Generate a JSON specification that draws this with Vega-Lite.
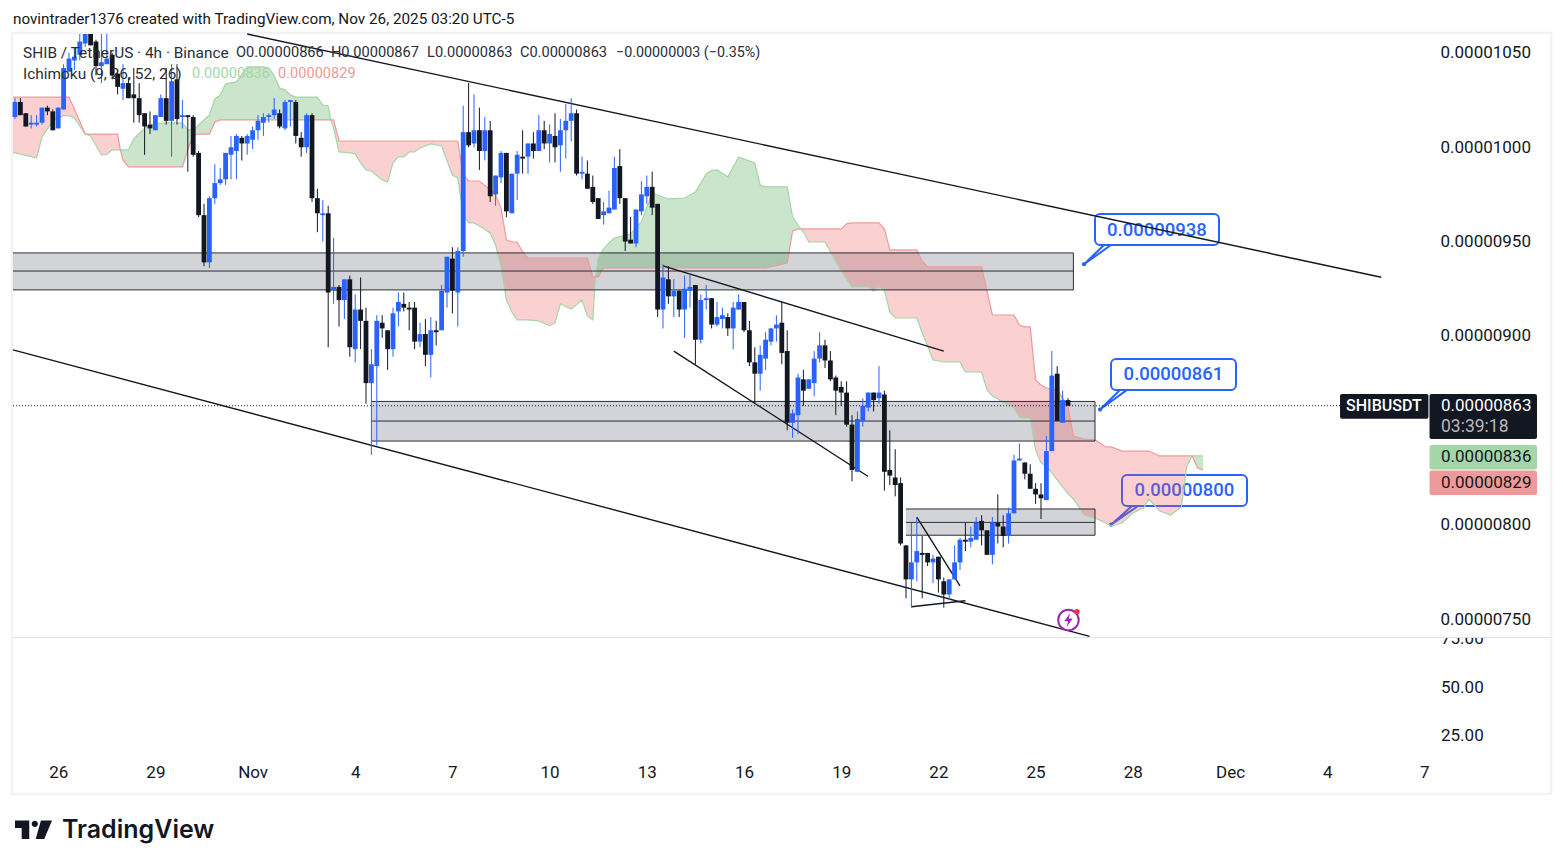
{"$schema":"https://vega.github.io/schema/vega-lite/v6.json","width":1563,"height":868,"autosize":{"type":"fit","contains":"padding"},"padding":0,"background":"#ffffff","config":{"view":{"stroke":null},"text":{"font":"Roboto"},"axis":{"labelFont":"Roboto"}},
"datasets":{
"candles":[
{"t":"2025-10-24T20:00Z","o":1016e-8,"h":1026e-8,"l":1015e-8,"c":1024e-8},
{"t":"2025-10-25T00:00Z","o":1024e-8,"h":1026e-8,"l":1017e-8,"c":1017e-8},
{"t":"2025-10-25T04:00Z","o":1018e-8,"h":1018e-8,"l":1011e-8,"c":1011e-8},
{"t":"2025-10-25T08:00Z","o":1012e-8,"h":1017e-8,"l":1010e-8,"c":1013e-8},
{"t":"2025-10-25T12:00Z","o":1012e-8,"h":1017e-8,"l":1011e-8,"c":1013e-8},
{"t":"2025-10-25T16:00Z","o":1013e-8,"h":1021e-8,"l":1012e-8,"c":1021e-8},
{"t":"2025-10-25T20:00Z","o":1021e-8,"h":1022e-8,"l":1017e-8,"c":1019e-8},
{"t":"2025-10-26T00:00Z","o":1019e-8,"h":1020e-8,"l":1009e-8,"c":1009e-8},
{"t":"2025-10-26T04:00Z","o":1010e-8,"h":1021e-8,"l":1010e-8,"c":1021e-8},
{"t":"2025-10-26T08:00Z","o":1020e-8,"h":1044e-8,"l":1020e-8,"c":1042e-8},
{"t":"2025-10-26T12:00Z","o":1040e-8,"h":1050e-8,"l":1040e-8,"c":1047e-8},
{"t":"2025-10-26T16:00Z","o":1046e-8,"h":1053e-8,"l":1041e-8,"c":1048e-8},
{"t":"2025-10-26T20:00Z","o":1049e-8,"h":1060e-8,"l":1046e-8,"c":1056e-8},
{"t":"2025-10-27T00:00Z","o":1055e-8,"h":1060e-8,"l":1053e-8,"c":1060e-8},
{"t":"2025-10-27T04:00Z","o":1060e-8,"h":1060e-8,"l":1054e-8,"c":1054e-8},
{"t":"2025-10-27T08:00Z","o":1056e-8,"h":1057e-8,"l":1038e-8,"c":1043e-8},
{"t":"2025-10-27T12:00Z","o":1043e-8,"h":1060e-8,"l":1034e-8,"c":1045e-8},
{"t":"2025-10-27T16:00Z","o":1044e-8,"h":1060e-8,"l":1044e-8,"c":1047e-8},
{"t":"2025-10-27T20:00Z","o":1049e-8,"h":1050e-8,"l":1036e-8,"c":1038e-8},
{"t":"2025-10-28T00:00Z","o":1039e-8,"h":1041e-8,"l":1028e-8,"c":1032e-8},
{"t":"2025-10-28T04:00Z","o":1031e-8,"h":1044e-8,"l":1025e-8,"c":1034e-8},
{"t":"2025-10-28T08:00Z","o":1034e-8,"h":1037e-8,"l":1026e-8,"c":1026e-8},
{"t":"2025-10-28T12:00Z","o":1028e-8,"h":1042e-8,"l":1013e-8,"c":1026e-8},
{"t":"2025-10-28T16:00Z","o":1026e-8,"h":1034e-8,"l":1013e-8,"c":1017e-8},
{"t":"2025-10-28T20:00Z","o":1018e-8,"h":1018e-8,"l":996e-8,"c":1011e-8},
{"t":"2025-10-29T00:00Z","o":1012e-8,"h":1019e-8,"l":1007e-8,"c":1010e-8},
{"t":"2025-10-29T04:00Z","o":1009e-8,"h":1017e-8,"l":1009e-8,"c":1017e-8},
{"t":"2025-10-29T08:00Z","o":1016e-8,"h":1028e-8,"l":1016e-8,"c":1026e-8},
{"t":"2025-10-29T12:00Z","o":1026e-8,"h":1042e-8,"l":1012e-8,"c":1014e-8},
{"t":"2025-10-29T16:00Z","o":1014e-8,"h":1044e-8,"l":995e-8,"c":1035e-8},
{"t":"2025-10-29T20:00Z","o":1036e-8,"h":1044e-8,"l":1012e-8,"c":1015e-8},
{"t":"2025-10-30T00:00Z","o":1016e-8,"h":1025e-8,"l":1010e-8,"c":1017e-8},
{"t":"2025-10-30T04:00Z","o":1017e-8,"h":1017e-8,"l":987e-8,"c":1016e-8},
{"t":"2025-10-30T08:00Z","o":1016e-8,"h":1017e-8,"l":995e-8,"c":996e-8},
{"t":"2025-10-30T12:00Z","o":997e-8,"h":998e-8,"l":963e-8,"c":964e-8},
{"t":"2025-10-30T16:00Z","o":964e-8,"h":970e-8,"l":937e-8,"c":939e-8},
{"t":"2025-10-30T20:00Z","o":939e-8,"h":974e-8,"l":936e-8,"c":973e-8},
{"t":"2025-10-31T00:00Z","o":973e-8,"h":991e-8,"l":970e-8,"c":981e-8},
{"t":"2025-10-31T04:00Z","o":981e-8,"h":989e-8,"l":980e-8,"c":983e-8},
{"t":"2025-10-31T08:00Z","o":983e-8,"h":997e-8,"l":980e-8,"c":997e-8},
{"t":"2025-10-31T12:00Z","o":996e-8,"h":1006e-8,"l":983e-8,"c":1000e-8},
{"t":"2025-10-31T16:00Z","o":998e-8,"h":1007e-8,"l":983e-8,"c":1006e-8},
{"t":"2025-10-31T20:00Z","o":1005e-8,"h":1006e-8,"l":993e-8,"c":1002e-8},
{"t":"2025-11-01T00:00Z","o":1002e-8,"h":1007e-8,"l":996e-8,"c":1006e-8},
{"t":"2025-11-01T04:00Z","o":1004e-8,"h":1011e-8,"l":999e-8,"c":1009e-8},
{"t":"2025-11-01T08:00Z","o":1009e-8,"h":1017e-8,"l":1004e-8,"c":1014e-8},
{"t":"2025-11-01T12:00Z","o":1013e-8,"h":1018e-8,"l":1006e-8,"c":1016e-8},
{"t":"2025-11-01T16:00Z","o":1016e-8,"h":1018e-8,"l":1013e-8,"c":1017e-8},
{"t":"2025-11-01T20:00Z","o":1017e-8,"h":1026e-8,"l":1015e-8,"c":1020e-8},
{"t":"2025-11-02T00:00Z","o":1018e-8,"h":1020e-8,"l":1010e-8,"c":1011e-8},
{"t":"2025-11-02T04:00Z","o":1010e-8,"h":1025e-8,"l":1009e-8,"c":1024e-8},
{"t":"2025-11-02T08:00Z","o":1024e-8,"h":1025e-8,"l":1011e-8,"c":1025e-8},
{"t":"2025-11-02T12:00Z","o":1024e-8,"h":1025e-8,"l":1002e-8,"c":1006e-8},
{"t":"2025-11-02T16:00Z","o":1005e-8,"h":1008e-8,"l":995e-8,"c":1000e-8},
{"t":"2025-11-02T20:00Z","o":1000e-8,"h":1018e-8,"l":997e-8,"c":1017e-8},
{"t":"2025-11-03T00:00Z","o":1017e-8,"h":1018e-8,"l":971e-8,"c":973e-8},
{"t":"2025-11-03T04:00Z","o":973e-8,"h":978e-8,"l":955e-8,"c":965e-8},
{"t":"2025-11-03T08:00Z","o":964e-8,"h":972e-8,"l":950e-8,"c":965e-8},
{"t":"2025-11-03T12:00Z","o":965e-8,"h":969e-8,"l":894e-8,"c":923e-8},
{"t":"2025-11-03T16:00Z","o":924e-8,"h":952e-8,"l":917e-8,"c":926e-8},
{"t":"2025-11-03T20:00Z","o":926e-8,"h":927e-8,"l":905e-8,"c":919e-8},
{"t":"2025-11-04T00:00Z","o":919e-8,"h":930e-8,"l":909e-8,"c":930e-8},
{"t":"2025-11-04T04:00Z","o":930e-8,"h":932e-8,"l":889e-8,"c":894e-8},
{"t":"2025-11-04T08:00Z","o":893e-8,"h":922e-8,"l":886e-8,"c":914e-8},
{"t":"2025-11-04T12:00Z","o":914e-8,"h":931e-8,"l":893e-8,"c":908e-8},
{"t":"2025-11-04T16:00Z","o":908e-8,"h":915e-8,"l":864e-8,"c":875e-8},
{"t":"2025-11-04T20:00Z","o":875e-8,"h":893e-8,"l":837e-8,"c":885e-8},
{"t":"2025-11-05T00:00Z","o":884e-8,"h":911e-8,"l":842e-8,"c":908e-8},
{"t":"2025-11-05T04:00Z","o":907e-8,"h":911e-8,"l":899e-8,"c":904e-8},
{"t":"2025-11-05T08:00Z","o":903e-8,"h":903e-8,"l":882e-8,"c":893e-8},
{"t":"2025-11-05T12:00Z","o":893e-8,"h":915e-8,"l":889e-8,"c":912e-8},
{"t":"2025-11-05T16:00Z","o":913e-8,"h":923e-8,"l":905e-8,"c":918e-8},
{"t":"2025-11-05T20:00Z","o":917e-8,"h":923e-8,"l":913e-8,"c":915e-8},
{"t":"2025-11-06T00:00Z","o":915e-8,"h":918e-8,"l":903e-8,"c":914e-8},
{"t":"2025-11-06T04:00Z","o":915e-8,"h":918e-8,"l":893e-8,"c":897e-8},
{"t":"2025-11-06T08:00Z","o":897e-8,"h":907e-8,"l":894e-8,"c":901e-8},
{"t":"2025-11-06T12:00Z","o":901e-8,"h":909e-8,"l":884e-8,"c":890e-8},
{"t":"2025-11-06T16:00Z","o":890e-8,"h":910e-8,"l":878e-8,"c":903e-8},
{"t":"2025-11-06T20:00Z","o":903e-8,"h":908e-8,"l":895e-8,"c":902e-8},
{"t":"2025-11-07T00:00Z","o":903e-8,"h":927e-8,"l":903e-8,"c":924e-8},
{"t":"2025-11-07T04:00Z","o":923e-8,"h":942e-8,"l":915e-8,"c":942e-8},
{"t":"2025-11-07T08:00Z","o":941e-8,"h":947e-8,"l":912e-8,"c":924e-8},
{"t":"2025-11-07T12:00Z","o":923e-8,"h":947e-8,"l":905e-8,"c":945e-8},
{"t":"2025-11-07T16:00Z","o":945e-8,"h":1022e-8,"l":942e-8,"c":1008e-8},
{"t":"2025-11-07T20:00Z","o":1008e-8,"h":1034e-8,"l":1000e-8,"c":1001e-8},
{"t":"2025-11-08T00:00Z","o":1002e-8,"h":1028e-8,"l":1000e-8,"c":1009e-8},
{"t":"2025-11-08T04:00Z","o":1009e-8,"h":1021e-8,"l":988e-8,"c":998e-8},
{"t":"2025-11-08T08:00Z","o":998e-8,"h":1016e-8,"l":993e-8,"c":1009e-8},
{"t":"2025-11-08T12:00Z","o":1009e-8,"h":1014e-8,"l":971e-8,"c":974e-8},
{"t":"2025-11-08T16:00Z","o":975e-8,"h":985e-8,"l":969e-8,"c":985e-8},
{"t":"2025-11-08T20:00Z","o":984e-8,"h":998e-8,"l":981e-8,"c":997e-8},
{"t":"2025-11-09T00:00Z","o":997e-8,"h":997e-8,"l":963e-8,"c":966e-8},
{"t":"2025-11-09T04:00Z","o":965e-8,"h":986e-8,"l":965e-8,"c":986e-8},
{"t":"2025-11-09T08:00Z","o":986e-8,"h":998e-8,"l":972e-8,"c":996e-8},
{"t":"2025-11-09T12:00Z","o":995e-8,"h":1009e-8,"l":986e-8,"c":994e-8},
{"t":"2025-11-09T16:00Z","o":995e-8,"h":1002e-8,"l":986e-8,"c":1002e-8},
{"t":"2025-11-09T20:00Z","o":1002e-8,"h":1008e-8,"l":994e-8,"c":998e-8},
{"t":"2025-11-10T00:00Z","o":998e-8,"h":1017e-8,"l":998e-8,"c":1009e-8},
{"t":"2025-11-10T04:00Z","o":1009e-8,"h":1014e-8,"l":999e-8,"c":1002e-8},
{"t":"2025-11-10T08:00Z","o":1002e-8,"h":1012e-8,"l":992e-8,"c":1007e-8},
{"t":"2025-11-10T12:00Z","o":1006e-8,"h":1018e-8,"l":992e-8,"c":1000e-8},
{"t":"2025-11-10T16:00Z","o":1001e-8,"h":1015e-8,"l":987e-8,"c":1009e-8},
{"t":"2025-11-10T20:00Z","o":1009e-8,"h":1023e-8,"l":994e-8,"c":1014e-8},
{"t":"2025-11-11T00:00Z","o":1014e-8,"h":1026e-8,"l":1003e-8,"c":1018e-8},
{"t":"2025-11-11T04:00Z","o":1018e-8,"h":1020e-8,"l":985e-8,"c":986e-8},
{"t":"2025-11-11T08:00Z","o":986e-8,"h":995e-8,"l":983e-8,"c":987e-8},
{"t":"2025-11-11T12:00Z","o":986e-8,"h":993e-8,"l":978e-8,"c":978e-8},
{"t":"2025-11-11T16:00Z","o":979e-8,"h":985e-8,"l":970e-8,"c":971e-8},
{"t":"2025-11-11T20:00Z","o":973e-8,"h":973e-8,"l":962e-8,"c":962e-8},
{"t":"2025-11-12T00:00Z","o":964e-8,"h":971e-8,"l":959e-8,"c":966e-8},
{"t":"2025-11-12T04:00Z","o":965e-8,"h":977e-8,"l":965e-8,"c":968e-8},
{"t":"2025-11-12T08:00Z","o":967e-8,"h":995e-8,"l":967e-8,"c":989e-8},
{"t":"2025-11-12T12:00Z","o":990e-8,"h":999e-8,"l":970e-8,"c":973e-8},
{"t":"2025-11-12T16:00Z","o":973e-8,"h":973e-8,"l":945e-8,"c":950e-8},
{"t":"2025-11-12T20:00Z","o":951e-8,"h":963e-8,"l":949e-8,"c":949e-8},
{"t":"2025-11-13T00:00Z","o":949e-8,"h":967e-8,"l":947e-8,"c":967e-8},
{"t":"2025-11-13T04:00Z","o":966e-8,"h":982e-8,"l":964e-8,"c":975e-8},
{"t":"2025-11-13T08:00Z","o":974e-8,"h":985e-8,"l":970e-8,"c":979e-8},
{"t":"2025-11-13T12:00Z","o":979e-8,"h":987e-8,"l":964e-8,"c":968e-8},
{"t":"2025-11-13T16:00Z","o":970e-8,"h":970e-8,"l":910e-8,"c":914e-8},
{"t":"2025-11-13T20:00Z","o":914e-8,"h":938e-8,"l":904e-8,"c":931e-8},
{"t":"2025-11-14T00:00Z","o":930e-8,"h":937e-8,"l":917e-8,"c":921e-8},
{"t":"2025-11-14T04:00Z","o":921e-8,"h":930e-8,"l":910e-8,"c":924e-8},
{"t":"2025-11-14T08:00Z","o":924e-8,"h":924e-8,"l":910e-8,"c":914e-8},
{"t":"2025-11-14T12:00Z","o":914e-8,"h":932e-8,"l":899e-8,"c":925e-8},
{"t":"2025-11-14T16:00Z","o":924e-8,"h":933e-8,"l":915e-8,"c":926e-8},
{"t":"2025-11-14T20:00Z","o":927e-8,"h":927e-8,"l":885e-8,"c":898e-8},
{"t":"2025-11-15T00:00Z","o":898e-8,"h":922e-8,"l":896e-8,"c":919e-8},
{"t":"2025-11-15T04:00Z","o":919e-8,"h":927e-8,"l":914e-8,"c":920e-8},
{"t":"2025-11-15T08:00Z","o":920e-8,"h":920e-8,"l":904e-8,"c":906e-8},
{"t":"2025-11-15T12:00Z","o":906e-8,"h":918e-8,"l":905e-8,"c":910e-8},
{"t":"2025-11-15T16:00Z","o":909e-8,"h":915e-8,"l":904e-8,"c":911e-8},
{"t":"2025-11-15T20:00Z","o":910e-8,"h":912e-8,"l":900e-8,"c":904e-8},
{"t":"2025-11-16T00:00Z","o":904e-8,"h":918e-8,"l":893e-8,"c":915e-8},
{"t":"2025-11-16T04:00Z","o":914e-8,"h":922e-8,"l":914e-8,"c":918e-8},
{"t":"2025-11-16T08:00Z","o":918e-8,"h":918e-8,"l":902e-8,"c":903e-8},
{"t":"2025-11-16T12:00Z","o":903e-8,"h":908e-8,"l":884e-8,"c":886e-8},
{"t":"2025-11-16T16:00Z","o":886e-8,"h":894e-8,"l":864e-8,"c":880e-8},
{"t":"2025-11-16T20:00Z","o":880e-8,"h":895e-8,"l":871e-8,"c":890e-8},
{"t":"2025-11-17T00:00Z","o":888e-8,"h":902e-8,"l":882e-8,"c":898e-8},
{"t":"2025-11-17T04:00Z","o":897e-8,"h":904e-8,"l":895e-8,"c":904e-8},
{"t":"2025-11-17T08:00Z","o":904e-8,"h":911e-8,"l":897e-8,"c":906e-8},
{"t":"2025-11-17T12:00Z","o":907e-8,"h":918e-8,"l":885e-8,"c":891e-8},
{"t":"2025-11-17T16:00Z","o":892e-8,"h":903e-8,"l":850e-8,"c":854e-8},
{"t":"2025-11-17T20:00Z","o":854e-8,"h":861e-8,"l":846e-8,"c":859e-8},
{"t":"2025-11-18T00:00Z","o":858e-8,"h":880e-8,"l":848e-8,"c":878e-8},
{"t":"2025-11-18T04:00Z","o":877e-8,"h":882e-8,"l":863e-8,"c":871e-8},
{"t":"2025-11-18T08:00Z","o":872e-8,"h":877e-8,"l":872e-8,"c":877e-8},
{"t":"2025-11-18T12:00Z","o":875e-8,"h":892e-8,"l":868e-8,"c":888e-8},
{"t":"2025-11-18T16:00Z","o":888e-8,"h":902e-8,"l":886e-8,"c":895e-8},
{"t":"2025-11-18T20:00Z","o":895e-8,"h":898e-8,"l":883e-8,"c":887e-8},
{"t":"2025-11-19T00:00Z","o":887e-8,"h":892e-8,"l":876e-8,"c":877e-8},
{"t":"2025-11-19T04:00Z","o":878e-8,"h":879e-8,"l":858e-8,"c":871e-8},
{"t":"2025-11-19T08:00Z","o":873e-8,"h":876e-8,"l":863e-8,"c":870e-8},
{"t":"2025-11-19T12:00Z","o":870e-8,"h":876e-8,"l":852e-8,"c":853e-8},
{"t":"2025-11-19T16:00Z","o":853e-8,"h":858e-8,"l":823e-8,"c":829e-8},
{"t":"2025-11-19T20:00Z","o":828e-8,"h":860e-8,"l":828e-8,"c":856e-8},
{"t":"2025-11-20T00:00Z","o":855e-8,"h":867e-8,"l":852e-8,"c":863e-8},
{"t":"2025-11-20T04:00Z","o":862e-8,"h":870e-8,"l":860e-8,"c":870e-8},
{"t":"2025-11-20T08:00Z","o":870e-8,"h":870e-8,"l":860e-8,"c":866e-8},
{"t":"2025-11-20T12:00Z","o":867e-8,"h":884e-8,"l":864e-8,"c":870e-8},
{"t":"2025-11-20T16:00Z","o":869e-8,"h":871e-8,"l":818e-8,"c":828e-8},
{"t":"2025-11-20T20:00Z","o":829e-8,"h":850e-8,"l":821e-8,"c":826e-8},
{"t":"2025-11-21T00:00Z","o":825e-8,"h":840e-8,"l":815e-8,"c":821e-8},
{"t":"2025-11-21T04:00Z","o":822e-8,"h":825e-8,"l":789e-8,"c":790e-8},
{"t":"2025-11-21T08:00Z","o":789e-8,"h":789e-8,"l":761e-8,"c":771e-8},
{"t":"2025-11-21T12:00Z","o":771e-8,"h":801e-8,"l":756e-8,"c":780e-8},
{"t":"2025-11-21T16:00Z","o":780e-8,"h":804e-8,"l":770e-8,"c":786e-8},
{"t":"2025-11-21T20:00Z","o":785e-8,"h":794e-8,"l":761e-8,"c":784e-8},
{"t":"2025-11-22T00:00Z","o":785e-8,"h":785e-8,"l":778e-8,"c":780e-8},
{"t":"2025-11-22T04:00Z","o":780e-8,"h":784e-8,"l":769e-8,"c":782e-8},
{"t":"2025-11-22T08:00Z","o":783e-8,"h":783e-8,"l":764e-8,"c":771e-8},
{"t":"2025-11-22T12:00Z","o":770e-8,"h":772e-8,"l":756e-8,"c":763e-8},
{"t":"2025-11-22T16:00Z","o":763e-8,"h":771e-8,"l":760e-8,"c":771e-8},
{"t":"2025-11-22T20:00Z","o":771e-8,"h":789e-8,"l":771e-8,"c":780e-8},
{"t":"2025-11-23T00:00Z","o":780e-8,"h":793e-8,"l":776e-8,"c":792e-8},
{"t":"2025-11-23T04:00Z","o":792e-8,"h":801e-8,"l":786e-8,"c":791e-8},
{"t":"2025-11-23T08:00Z","o":791e-8,"h":799e-8,"l":788e-8,"c":793e-8},
{"t":"2025-11-23T12:00Z","o":792e-8,"h":804e-8,"l":792e-8,"c":801e-8},
{"t":"2025-11-23T16:00Z","o":802e-8,"h":805e-8,"l":789e-8,"c":797e-8},
{"t":"2025-11-23T20:00Z","o":797e-8,"h":797e-8,"l":784e-8,"c":784e-8},
{"t":"2025-11-24T00:00Z","o":784e-8,"h":804e-8,"l":779e-8,"c":801e-8},
{"t":"2025-11-24T04:00Z","o":801e-8,"h":816e-8,"l":790e-8,"c":799e-8},
{"t":"2025-11-24T08:00Z","o":799e-8,"h":805e-8,"l":788e-8,"c":794e-8},
{"t":"2025-11-24T12:00Z","o":794e-8,"h":809e-8,"l":790e-8,"c":806e-8},
{"t":"2025-11-24T16:00Z","o":806e-8,"h":837e-8,"l":806e-8,"c":834e-8},
{"t":"2025-11-24T20:00Z","o":834e-8,"h":843e-8,"l":834e-8,"c":835e-8},
{"t":"2025-11-25T00:00Z","o":833e-8,"h":833e-8,"l":824e-8,"c":827e-8},
{"t":"2025-11-25T04:00Z","o":827e-8,"h":832e-8,"l":819e-8,"c":819e-8},
{"t":"2025-11-25T08:00Z","o":819e-8,"h":822e-8,"l":811e-8,"c":816e-8},
{"t":"2025-11-25T12:00Z","o":816e-8,"h":822e-8,"l":803e-8,"c":814e-8},
{"t":"2025-11-25T16:00Z","o":813e-8,"h":847e-8,"l":813e-8,"c":839e-8},
{"t":"2025-11-25T20:00Z","o":839e-8,"h":892e-8,"l":839e-8,"c":879e-8},
{"t":"2025-11-26T00:00Z","o":880e-8,"h":884e-8,"l":855e-8,"c":855e-8},
{"t":"2025-11-26T04:00Z","o":854e-8,"h":871e-8,"l":854e-8,"c":866e-8},
{"t":"2025-11-26T08:00Z","o":866e-8,"h":867e-8,"l":863e-8,"c":863e-8}
],
"cloud":[
{"t":"2025-10-24T18:30Z","a":997e-8,"b":1026.6e-8,"s":1,"k":"bear"},
{"t":"2025-10-24T20:00Z","a":997e-8,"b":1026.6e-8,"s":1,"k":"bear"},
{"t":"2025-10-25T04:00Z","a":995.7e-8,"b":1026.6e-8,"s":1,"k":"bear"},
{"t":"2025-10-25T12:00Z","a":994.3e-8,"b":1026.6e-8,"s":1,"k":"bear"},
{"t":"2025-10-25T16:00Z","a":1005.5e-8,"b":1026.6e-8,"s":1,"k":"bear"},
{"t":"2025-10-26T00:00Z","a":1013.9e-8,"b":1026.6e-8,"s":1,"k":"bear"},
{"t":"2025-10-26T08:00Z","a":1016.9e-8,"b":1026.6e-8,"s":1,"k":"bear"},
{"t":"2025-10-26T12:00Z","a":1016.6e-8,"b":1026.6e-8,"s":1,"k":"bear"},
{"t":"2025-10-26T16:00Z","a":1015.5e-8,"b":1020.3e-8,"s":1,"k":"bear"},
{"t":"2025-10-27T00:00Z","a":1007e-8,"b":1007e-8,"s":1,"k":"bear"},
{"t":"2025-10-27T04:00Z","a":1006e-8,"b":1007e-8,"s":1,"k":"bear"},
{"t":"2025-10-27T12:00Z","a":995.9e-8,"b":1007e-8,"s":1,"k":"bear"},
{"t":"2025-10-27T16:00Z","a":996.2e-8,"b":1007e-8,"s":1,"k":"bear"},
{"t":"2025-10-27T20:00Z","a":998.6e-8,"b":1007e-8,"s":1,"k":"bear"},
{"t":"2025-10-28T00:00Z","a":998.6e-8,"b":1007e-8,"s":1,"k":"bear"},
{"t":"2025-10-28T02:00Z","a":998.6e-8,"b":998.6e-8,"s":1,"k":"bear"},
{"t":"2025-10-28T02:00Z","a":998.6e-8,"b":998.6e-8,"s":2,"k":"bull"},
{"t":"2025-10-28T04:00Z","a":998.6e-8,"b":993.3e-8,"s":2,"k":"bull"},
{"t":"2025-10-28T08:00Z","a":998.6e-8,"b":989.6e-8,"s":2,"k":"bull"},
{"t":"2025-10-28T12:00Z","a":1004.4e-8,"b":989.6e-8,"s":2,"k":"bull"},
{"t":"2025-10-28T20:00Z","a":1010.2e-8,"b":989.6e-8,"s":2,"k":"bull"},
{"t":"2025-10-29T04:00Z","a":1012.6e-8,"b":989.6e-8,"s":2,"k":"bull"},
{"t":"2025-10-29T12:00Z","a":1012.9e-8,"b":989.6e-8,"s":2,"k":"bull"},
{"t":"2025-10-30T00:00Z","a":1012.9e-8,"b":989.6e-8,"s":2,"k":"bull"},
{"t":"2025-10-30T04:00Z","a":1009.2e-8,"b":998.6e-8,"s":2,"k":"bull"},
{"t":"2025-10-30T08:00Z","a":1009.2e-8,"b":1006.5e-8,"s":2,"k":"bull"},
{"t":"2025-10-30T12:00Z","a":1011.8e-8,"b":1007e-8,"s":2,"k":"bull"},
{"t":"2025-10-30T20:00Z","a":1017.1e-8,"b":1007e-8,"s":2,"k":"bull"},
{"t":"2025-10-31T00:00Z","a":1025.6e-8,"b":1013.4e-8,"s":2,"k":"bull"},
{"t":"2025-10-31T04:00Z","a":1027.5e-8,"b":1014.5e-8,"s":2,"k":"bull"},
{"t":"2025-10-31T08:00Z","a":1033.6e-8,"b":1014.5e-8,"s":2,"k":"bull"},
{"t":"2025-10-31T16:00Z","a":1034.6e-8,"b":1014.5e-8,"s":2,"k":"bull"},
{"t":"2025-11-01T00:00Z","a":1042.6e-8,"b":1014.5e-8,"s":2,"k":"bull"},
{"t":"2025-11-01T12:00Z","a":1042.6e-8,"b":1014.5e-8,"s":2,"k":"bull"},
{"t":"2025-11-01T16:00Z","a":1042e-8,"b":1014.5e-8,"s":2,"k":"bull"},
{"t":"2025-11-01T20:00Z","a":1037.8e-8,"b":1014.5e-8,"s":2,"k":"bull"},
{"t":"2025-11-02T00:00Z","a":1031.4e-8,"b":1014.5e-8,"s":2,"k":"bull"},
{"t":"2025-11-02T04:00Z","a":1030.4e-8,"b":1014.5e-8,"s":2,"k":"bull"},
{"t":"2025-11-02T08:00Z","a":1027.7e-8,"b":1014.5e-8,"s":2,"k":"bull"},
{"t":"2025-11-02T12:00Z","a":1026.6e-8,"b":1014.5e-8,"s":2,"k":"bull"},
{"t":"2025-11-03T04:00Z","a":1026.6e-8,"b":1014.5e-8,"s":2,"k":"bull"},
{"t":"2025-11-03T08:00Z","a":1022.4e-8,"b":1014.5e-8,"s":2,"k":"bull"},
{"t":"2025-11-03T12:00Z","a":1021.9e-8,"b":1014.5e-8,"s":2,"k":"bull"},
{"t":"2025-11-03T14:00Z","a":1014.5e-8,"b":1014.5e-8,"s":2,"k":"bull"},
{"t":"2025-11-03T14:00Z","a":1014.5e-8,"b":1014.5e-8,"s":3,"k":"bear"},
{"t":"2025-11-03T16:00Z","a":1010.2e-8,"b":1014.5e-8,"s":3,"k":"bear"},
{"t":"2025-11-03T20:00Z","a":997.5e-8,"b":1003.3e-8,"s":3,"k":"bear"},
{"t":"2025-11-04T04:00Z","a":997e-8,"b":1003.3e-8,"s":3,"k":"bear"},
{"t":"2025-11-04T08:00Z","a":996.5e-8,"b":1003.3e-8,"s":3,"k":"bear"},
{"t":"2025-11-04T12:00Z","a":991.7e-8,"b":1003.3e-8,"s":3,"k":"bear"},
{"t":"2025-11-04T16:00Z","a":988e-8,"b":1003.3e-8,"s":3,"k":"bear"},
{"t":"2025-11-04T20:00Z","a":987.4e-8,"b":1003.3e-8,"s":3,"k":"bear"},
{"t":"2025-11-05T04:00Z","a":982.7e-8,"b":1003.3e-8,"s":3,"k":"bear"},
{"t":"2025-11-05T08:00Z","a":981.6e-8,"b":1003.3e-8,"s":3,"k":"bear"},
{"t":"2025-11-05T12:00Z","a":991.7e-8,"b":1003.3e-8,"s":3,"k":"bear"},
{"t":"2025-11-05T16:00Z","a":994.9e-8,"b":1003.3e-8,"s":3,"k":"bear"},
{"t":"2025-11-05T20:00Z","a":994.9e-8,"b":1003.3e-8,"s":3,"k":"bear"},
{"t":"2025-11-06T00:00Z","a":997.5e-8,"b":1003.3e-8,"s":3,"k":"bear"},
{"t":"2025-11-06T04:00Z","a":997.5e-8,"b":1003.3e-8,"s":3,"k":"bear"},
{"t":"2025-11-06T08:00Z","a":999.6e-8,"b":1003.3e-8,"s":3,"k":"bear"},
{"t":"2025-11-06T16:00Z","a":1001.8e-8,"b":1003.3e-8,"s":3,"k":"bear"},
{"t":"2025-11-07T00:00Z","a":1000.7e-8,"b":1003.3e-8,"s":3,"k":"bear"},
{"t":"2025-11-07T08:00Z","a":985.3e-8,"b":1003.3e-8,"s":3,"k":"bear"},
{"t":"2025-11-07T12:00Z","a":983.7e-8,"b":1003.3e-8,"s":3,"k":"bear"},
{"t":"2025-11-07T16:00Z","a":964.1e-8,"b":985.3e-8,"s":3,"k":"bear"},
{"t":"2025-11-07T20:00Z","a":959.9e-8,"b":982.1e-8,"s":3,"k":"bear"},
{"t":"2025-11-08T00:00Z","a":959.9e-8,"b":982.1e-8,"s":3,"k":"bear"},
{"t":"2025-11-08T04:00Z","a":958.3e-8,"b":982.1e-8,"s":3,"k":"bear"},
{"t":"2025-11-08T12:00Z","a":954.6e-8,"b":977.4e-8,"s":3,"k":"bear"},
{"t":"2025-11-08T16:00Z","a":948.2e-8,"b":974.7e-8,"s":3,"k":"bear"},
{"t":"2025-11-08T20:00Z","a":936.6e-8,"b":967.8e-8,"s":3,"k":"bear"},
{"t":"2025-11-09T00:00Z","a":919e-8,"b":950.9e-8,"s":3,"k":"bear"},
{"t":"2025-11-09T04:00Z","a":912.7e-8,"b":949.8e-8,"s":3,"k":"bear"},
{"t":"2025-11-09T08:00Z","a":908.5e-8,"b":949.8e-8,"s":3,"k":"bear"},
{"t":"2025-11-09T12:00Z","a":908.5e-8,"b":944.5e-8,"s":3,"k":"bear"},
{"t":"2025-11-09T16:00Z","a":908.5e-8,"b":941.3e-8,"s":3,"k":"bear"},
{"t":"2025-11-10T00:00Z","a":908e-8,"b":941.3e-8,"s":3,"k":"bear"},
{"t":"2025-11-10T08:00Z","a":905.3e-8,"b":941.3e-8,"s":3,"k":"bear"},
{"t":"2025-11-10T12:00Z","a":906.9e-8,"b":941.3e-8,"s":3,"k":"bear"},
{"t":"2025-11-10T16:00Z","a":917e-8,"b":941.3e-8,"s":3,"k":"bear"},
{"t":"2025-11-11T00:00Z","a":914.3e-8,"b":941.3e-8,"s":3,"k":"bear"},
{"t":"2025-11-11T08:00Z","a":919e-8,"b":941.3e-8,"s":3,"k":"bear"},
{"t":"2025-11-11T12:00Z","a":910.6e-8,"b":941.3e-8,"s":3,"k":"bear"},
{"t":"2025-11-11T16:00Z","a":908.5e-8,"b":931.3e-8,"s":3,"k":"bear"},
{"t":"2025-11-11T18:00Z","a":931.3e-8,"b":931.3e-8,"s":3,"k":"bear"},
{"t":"2025-11-11T18:00Z","a":931.3e-8,"b":931.3e-8,"s":4,"k":"bull"},
{"t":"2025-11-11T20:00Z","a":941.3e-8,"b":931.3e-8,"s":4,"k":"bull"},
{"t":"2025-11-12T00:00Z","a":946.1e-8,"b":936e-8,"s":4,"k":"bull"},
{"t":"2025-11-12T04:00Z","a":949.3e-8,"b":936e-8,"s":4,"k":"bull"},
{"t":"2025-11-12T08:00Z","a":951.9e-8,"b":936e-8,"s":4,"k":"bull"},
{"t":"2025-11-12T20:00Z","a":954e-8,"b":936e-8,"s":4,"k":"bull"},
{"t":"2025-11-13T04:00Z","a":960.4e-8,"b":936e-8,"s":4,"k":"bull"},
{"t":"2025-11-13T12:00Z","a":975.8e-8,"b":936e-8,"s":4,"k":"bull"},
{"t":"2025-11-14T00:00Z","a":972.6e-8,"b":936e-8,"s":4,"k":"bull"},
{"t":"2025-11-14T12:00Z","a":973.1e-8,"b":936e-8,"s":4,"k":"bull"},
{"t":"2025-11-14T20:00Z","a":976.3e-8,"b":936e-8,"s":4,"k":"bull"},
{"t":"2025-11-15T04:00Z","a":985.9e-8,"b":936e-8,"s":4,"k":"bull"},
{"t":"2025-11-15T08:00Z","a":987.7e-8,"b":936e-8,"s":4,"k":"bull"},
{"t":"2025-11-15T12:00Z","a":988e-8,"b":936e-8,"s":4,"k":"bull"},
{"t":"2025-11-15T20:00Z","a":984.3e-8,"b":936e-8,"s":4,"k":"bull"},
{"t":"2025-11-16T04:00Z","a":994.9e-8,"b":936e-8,"s":4,"k":"bull"},
{"t":"2025-11-16T16:00Z","a":991.7e-8,"b":936e-8,"s":4,"k":"bull"},
{"t":"2025-11-16T20:00Z","a":980e-8,"b":936e-8,"s":4,"k":"bull"},
{"t":"2025-11-17T00:00Z","a":979e-8,"b":936e-8,"s":4,"k":"bull"},
{"t":"2025-11-17T16:00Z","a":979e-8,"b":938.7e-8,"s":4,"k":"bull"},
{"t":"2025-11-17T20:00Z","a":963e-8,"b":955.6e-8,"s":4,"k":"bull"},
{"t":"2025-11-18T00:00Z","a":958.8e-8,"b":956.7e-8,"s":4,"k":"bull"},
{"t":"2025-11-18T02:00Z","a":956.7e-8,"b":956.7e-8,"s":4,"k":"bull"},
{"t":"2025-11-18T02:00Z","a":956.7e-8,"b":956.7e-8,"s":5,"k":"bear"},
{"t":"2025-11-18T04:00Z","a":955.1e-8,"b":956.7e-8,"s":5,"k":"bear"},
{"t":"2025-11-18T08:00Z","a":949.8e-8,"b":956.7e-8,"s":5,"k":"bear"},
{"t":"2025-11-18T20:00Z","a":949.8e-8,"b":956.7e-8,"s":5,"k":"bear"},
{"t":"2025-11-19T08:00Z","a":934.4e-8,"b":956.7e-8,"s":5,"k":"bear"},
{"t":"2025-11-19T12:00Z","a":930.2e-8,"b":959.4e-8,"s":5,"k":"bear"},
{"t":"2025-11-19T16:00Z","a":926e-8,"b":959.9e-8,"s":5,"k":"bear"},
{"t":"2025-11-20T04:00Z","a":926e-8,"b":959.9e-8,"s":5,"k":"bear"},
{"t":"2025-11-20T08:00Z","a":923.8e-8,"b":959.9e-8,"s":5,"k":"bear"},
{"t":"2025-11-20T12:00Z","a":926e-8,"b":959.9e-8,"s":5,"k":"bear"},
{"t":"2025-11-20T16:00Z","a":924.4e-8,"b":956.7e-8,"s":5,"k":"bear"},
{"t":"2025-11-20T20:00Z","a":912.7e-8,"b":945.6e-8,"s":5,"k":"bear"},
{"t":"2025-11-21T00:00Z","a":909.5e-8,"b":945.6e-8,"s":5,"k":"bear"},
{"t":"2025-11-21T16:00Z","a":909.5e-8,"b":945.6e-8,"s":5,"k":"bear"},
{"t":"2025-11-21T20:00Z","a":901.6e-8,"b":939.7e-8,"s":5,"k":"bear"},
{"t":"2025-11-22T00:00Z","a":894.7e-8,"b":936.6e-8,"s":5,"k":"bear"},
{"t":"2025-11-22T04:00Z","a":887.3e-8,"b":936.6e-8,"s":5,"k":"bear"},
{"t":"2025-11-22T12:00Z","a":886.2e-8,"b":936.6e-8,"s":5,"k":"bear"},
{"t":"2025-11-23T00:00Z","a":886.2e-8,"b":936.6e-8,"s":5,"k":"bear"},
{"t":"2025-11-23T04:00Z","a":880.9e-8,"b":936.6e-8,"s":5,"k":"bear"},
{"t":"2025-11-23T16:00Z","a":880.9e-8,"b":936.6e-8,"s":5,"k":"bear"},
{"t":"2025-11-23T20:00Z","a":871.4e-8,"b":923.8e-8,"s":5,"k":"bear"},
{"t":"2025-11-24T00:00Z","a":868.2e-8,"b":911.1e-8,"s":5,"k":"bear"},
{"t":"2025-11-24T16:00Z","a":861.8e-8,"b":911.1e-8,"s":5,"k":"bear"},
{"t":"2025-11-24T20:00Z","a":857e-8,"b":905.8e-8,"s":5,"k":"bear"},
{"t":"2025-11-25T00:00Z","a":856.5e-8,"b":904.8e-8,"s":5,"k":"bear"},
{"t":"2025-11-25T04:00Z","a":856.5e-8,"b":904.8e-8,"s":5,"k":"bear"},
{"t":"2025-11-25T08:00Z","a":839.6e-8,"b":876.7e-8,"s":5,"k":"bear"},
{"t":"2025-11-25T12:00Z","a":832.7e-8,"b":874e-8,"s":5,"k":"bear"},
{"t":"2025-11-25T16:00Z","a":831.1e-8,"b":872.4e-8,"s":5,"k":"bear"},
{"t":"2025-11-26T00:00Z","a":823.7e-8,"b":871.4e-8,"s":5,"k":"bear"},
{"t":"2025-11-26T04:00Z","a":820e-8,"b":867.1e-8,"s":5,"k":"bear"},
{"t":"2025-11-26T08:00Z","a":816.3e-8,"b":862.4e-8,"s":5,"k":"bear"},
{"t":"2025-11-26T12:00Z","a":813.6e-8,"b":847e-8,"s":5,"k":"bear"},
{"t":"2025-11-26T20:00Z","a":805.1e-8,"b":845.4e-8,"s":5,"k":"bear"},
{"t":"2025-11-27T04:00Z","a":803.5e-8,"b":844.9e-8,"s":5,"k":"bear"},
{"t":"2025-11-27T12:00Z","a":800.9e-8,"b":841.2e-8,"s":5,"k":"bear"},
{"t":"2025-11-27T16:00Z","a":799.3e-8,"b":841.2e-8,"s":5,"k":"bear"},
{"t":"2025-11-28T00:00Z","a":800.9e-8,"b":839e-8,"s":5,"k":"bear"},
{"t":"2025-11-28T08:00Z","a":806.2e-8,"b":839e-8,"s":5,"k":"bear"},
{"t":"2025-11-28T16:00Z","a":808.8e-8,"b":839e-8,"s":5,"k":"bear"},
{"t":"2025-11-28T20:00Z","a":813.6e-8,"b":839e-8,"s":5,"k":"bear"},
{"t":"2025-11-29T04:00Z","a":807.2e-8,"b":836.4e-8,"s":5,"k":"bear"},
{"t":"2025-11-29T12:00Z","a":805.1e-8,"b":836.4e-8,"s":5,"k":"bear"},
{"t":"2025-11-29T20:00Z","a":809.4e-8,"b":836.4e-8,"s":5,"k":"bear"},
{"t":"2025-11-30T00:00Z","a":831.1e-8,"b":836.4e-8,"s":5,"k":"bear"},
{"t":"2025-11-30T04:00Z","a":836.4e-8,"b":836.4e-8,"s":5,"k":"bear"},
{"t":"2025-11-30T04:00Z","a":836.4e-8,"b":836.4e-8,"s":6,"k":"bull"},
{"t":"2025-11-30T08:00Z","a":836.4e-8,"b":830e-8,"s":6,"k":"bull"},
{"t":"2025-11-30T12:00Z","a":836.4e-8,"b":829e-8,"s":6,"k":"bull"}
],
"zones":[
{"t":"2025-10-24T18:30Z","t2":"2025-11-26T12:00Z","p":944e-8,"m":934.4e-8,"p2":924.4e-8},
{"t":"2025-11-04T20:00Z","t2":"2025-11-27T04:00Z","p":865.3e-8,"m":854.9e-8,"p2":844.3e-8},
{"t":"2025-11-21T08:00Z","t2":"2025-11-27T04:00Z","p":808.3e-8,"m":801.2e-8,"p2":794.4e-8}
],
"trends":[
{"id":"upper","t":"2025-11-01T00:00Z","p":1060e-8},
{"id":"upper","t":"2025-12-06T00:00Z","p":931.1e-8},
{"id":"lower","t":"2025-10-24T18:30Z","p":892.6e-8},
{"id":"lower","t":"2025-11-27T00:00Z","p":740.8e-8},
{"id":"innerUpper","t":"2025-11-13T20:00Z","p":937.1e-8},
{"id":"innerUpper","t":"2025-11-22T12:00Z","p":892e-8},
{"id":"innerLower","t":"2025-11-14T04:00Z","p":892e-8},
{"id":"innerLower","t":"2025-11-20T04:00Z","p":825.5e-8},
{"id":"wedgeUpper","t":"2025-11-21T16:00Z","p":804e-8},
{"id":"wedgeUpper","t":"2025-11-23T00:00Z","p":767.5e-8},
{"id":"wedgeBase","t":"2025-11-21T12:00Z","p":756.5e-8},
{"id":"wedgeBase","t":"2025-11-23T04:00Z","p":759.7e-8}
],
"boxes":[
{"label":"0.00000938","t":"2025-11-27T04:00Z","t2":"2025-11-30T23:51Z","p":964.6e-8,"p2":948.2e-8,"tm":"2025-11-29T01:54Z","pm":956.4e-8},
{"label":"0.00000861","t":"2025-11-27T15:51Z","t2":"2025-12-01T12:27Z","p":887.8e-8,"p2":871.4e-8,"tm":"2025-11-29T14:09Z","pm":879.6e-8},
{"label":"0.00000800","t":"2025-11-28T00:00Z","t2":"2025-12-01T20:36Z","p":826.3e-8,"p2":809.9e-8,"tm":"2025-11-29T22:18Z","pm":818.1e-8}
],
"tails":[
{"id":"938","seq":1,"t":"2025-11-27T10:40Z","p":948.2e-8},
{"id":"938","seq":2,"t":"2025-11-26T19:51Z","p":938e-8},
{"id":"938","seq":3,"t":"2025-11-27T15:51Z","p":948.2e-8},
{"id":"861","seq":1,"t":"2025-11-27T22:31Z","p":871.4e-8},
{"id":"861","seq":2,"t":"2025-11-27T07:42Z","p":861e-8},
{"id":"861","seq":3,"t":"2025-11-28T03:42Z","p":871.4e-8},
{"id":"800","seq":1,"t":"2025-11-28T07:24Z","p":809.9e-8},
{"id":"800","seq":2,"t":"2025-11-27T15:51Z","p":800e-8},
{"id":"800","seq":3,"t":"2025-11-28T11:51Z","p":809.9e-8}
]
},
"encoding":{"x":{"field":"t","type":"temporal","title":null,"axis":null,"scale":{"type":"utc","padding":0,"domain":["2025-10-24T08:53:20Z","2025-12-11T14:40:00Z"]}}},
"layer":[
{"data":{"values":[{"t":"2025-12-07T20:18Z","rsi":75},{"t":"2025-12-07T20:18Z","rsi":50},{"t":"2025-12-07T20:18Z","rsi":25}]},
"mark":{"type":"text","align":"left","baseline":"middle","fontSize":17,"color":"#131722","font":"Roboto"},
"encoding":{"y":{"field":"rsi","type":"quantitative","axis":null,"scale":{"domain":[-43.04,404.4],"zero":false,"nice":false}},"text":{"field":"rsi","type":"quantitative","format":".2f"}}},
{"encoding":{"y":{"field":"p","type":"quantitative","title":null,"axis":null,"scale":{"domain":[618.05e-8,1078.03e-8],"zero":false,"nice":false}}},
"resolve":{"axis":{"x":"independent","y":"independent"}},
"layer":[
{"data":{"values":[{"t":"2025-10-24T17:47Z","t2":"2025-12-11T05:48Z","p":1060.5e-8,"p2":657.3e-8}]},"mark":{"type":"rect","fill":"transparent","stroke":"#F2F3F5","strokeWidth":2.5},"encoding":{"x2":{"field":"t2"},"y2":{"field":"p2"},
"x":{"field":"t","type":"temporal","title":null,"scale":{"type":"utc","padding":0,"domain":["2025-10-24T08:53:20Z","2025-12-11T14:40:00Z"]},"axis":{"zindex":1,"domain":false,"ticks":false,"grid":false,"labelFontSize":17,"labelColor":"#131722","labelPadding":0,"offset":-104,"labelOverlap":false,"labelFlush":false,"labelBound":false,
"values":[{"year":2025,"month":10,"date":26,"hours":4,"utc":true},{"year":2025,"month":10,"date":29,"hours":4,"utc":true},{"year":2025,"month":11,"date":1,"hours":4,"utc":true},{"year":2025,"month":11,"date":4,"hours":8,"utc":true},{"year":2025,"month":11,"date":7,"hours":8,"utc":true},{"year":2025,"month":11,"date":10,"hours":8,"utc":true},{"year":2025,"month":11,"date":13,"hours":8,"utc":true},{"year":2025,"month":11,"date":16,"hours":8,"utc":true},{"year":2025,"month":11,"date":19,"hours":8,"utc":true},{"year":2025,"month":11,"date":22,"hours":8,"utc":true},{"year":2025,"month":11,"date":25,"hours":8,"utc":true},{"year":2025,"month":11,"date":28,"hours":8,"utc":true},{"year":2025,"month":12,"date":1,"hours":8,"utc":true},{"year":2025,"month":12,"date":4,"hours":8,"utc":true},{"year":2025,"month":12,"date":7,"hours":8,"utc":true}],
"labelExpr":"utcdate(datum.value)===1?utcFormat(datum.value,'%b'):utcFormat(datum.value,'%-d')"}},
"y":{"field":"p","type":"quantitative","title":null,"scale":{"domain":[618.05e-8,1078.03e-8],"zero":false,"nice":false},"axis":{"orient":"right","zindex":1,"domain":false,"ticks":false,"grid":false,"labelFontSize":17,"labelColor":"#131722","labelPadding":0,"offset":-123,"labelAlign":"left","labelOverlap":false,"labelBound":false,"labelFlush":false,"values":[750e-8,800e-8,900e-8,950e-8,1000e-8,1050e-8],"format":".8f"}}}},
{"data":{"values":[{"t":"2025-12-07T14:00Z","t2":"2025-12-11T04:00Z","p":746.8e-8,"p2":740.2e-8}]},"mark":{"type":"rect","fill":"#ffffff"},"encoding":{"x2":{"field":"t2"},"y2":{"field":"p2"}}},
{"data":{"values":[{"t":"2025-10-24T18:30Z","t2":"2025-12-11T05:00Z","p":740.2e-8}]},"mark":{"type":"rule","color":"#E0E3EB","strokeWidth":1},"encoding":{"x2":{"field":"t2"}}},
{"data":{"name":"boxes"},"mark":{"type":"rect","fill":"#ffffff","stroke":"#2962FF","strokeWidth":2,"cornerRadius":5},"encoding":{"x2":{"field":"t2"},"y2":{"field":"p2"}}},
{"data":{"name":"tails"},"mark":{"type":"line","color":"#2962FF","strokeWidth":2},"encoding":{"detail":{"field":"id"},"order":{"field":"seq"}}},
{"data":{"values":[{"t":"2025-11-26T19:51Z","p":938e-8},{"t":"2025-11-27T07:42Z","p":861e-8},{"t":"2025-11-27T15:51Z","p":800e-8}]},"mark":{"type":"point","filled":true,"color":"#2962FF","size":18,"opacity":1}},
{"data":{"name":"boxes"},"mark":{"type":"text","color":"#2962FF","fontSize":18.5,"fontWeight":500,"align":"center","baseline":"middle","font":"Roboto"},"encoding":{"x":{"field":"tm","type":"temporal","axis":null,"scale":{"type":"utc","padding":0,"domain":["2025-10-24T08:53:20Z","2025-12-11T14:40:00Z"]}},"y":{"field":"pm","type":"quantitative","axis":null,"scale":{"domain":[618.05e-8,1078.03e-8],"zero":false,"nice":false}},"text":{"field":"label"}}},
{"data":{"name":"zones"},"mark":{"type":"rect","fill":"#787B86","opacity":0.33},"encoding":{"x2":{"field":"t2"},"y2":{"field":"p2"}}},
{"data":{"name":"cloud"},"mark":{"type":"area","opacity":1,"interpolate":"linear"},"encoding":{"y":{"field":"a","type":"quantitative","axis":null,"stack":null,"scale":{"domain":[618.05e-8,1078.03e-8],"zero":false,"nice":false}},"y2":{"field":"b"},"detail":{"field":"s"},"color":{"field":"k","type":"nominal","legend":null,"scale":{"domain":["bear","bull"],"range":["#EF5350","#3C9F40"]}},"opacity":{"value":0.27}}},
{"data":{"name":"cloud"},"mark":{"type":"line","color":"#A5D6A7","strokeWidth":1.2},"encoding":{"y":{"field":"a","type":"quantitative","axis":null,"scale":{"domain":[618.05e-8,1078.03e-8],"zero":false,"nice":false}}}},
{"data":{"name":"cloud"},"mark":{"type":"line","color":"#EF9A9A","strokeWidth":1.2},"encoding":{"y":{"field":"b","type":"quantitative","axis":null,"scale":{"domain":[618.05e-8,1078.03e-8],"zero":false,"nice":false}}}},
{"data":{"name":"zones"},"mark":{"type":"rule","color":"#2A2E39","strokeWidth":1},"encoding":{"x2":{"field":"t2"}}},
{"data":{"name":"zones"},"mark":{"type":"rule","color":"#2A2E39","strokeWidth":1},"encoding":{"x2":{"field":"t2"},"y":{"field":"m","type":"quantitative","axis":null,"scale":{"domain":[618.05e-8,1078.03e-8],"zero":false,"nice":false}}}},
{"data":{"name":"zones"},"mark":{"type":"rule","color":"#2A2E39","strokeWidth":1},"encoding":{"x2":{"field":"t2"},"y":{"field":"p2","type":"quantitative","axis":null,"scale":{"domain":[618.05e-8,1078.03e-8],"zero":false,"nice":false}}}},
{"data":{"name":"zones"},"mark":{"type":"rule","color":"#2A2E39","strokeWidth":1},"encoding":{"x":{"field":"t2","type":"temporal","axis":null,"scale":{"type":"utc","padding":0,"domain":["2025-10-24T08:53:20Z","2025-12-11T14:40:00Z"]}},"y2":{"field":"p2"}}},
{"data":{"values":[{"t":"2025-10-24T18:30Z","t2":"2025-12-04T17:30Z","p":863e-8}]},"mark":{"type":"rule","color":"#131722","strokeWidth":1,"strokeDash":[1,2]},"encoding":{"x2":{"field":"t2"}}},
{"data":{"name":"trends"},"mark":{"type":"line","color":"#131722","strokeWidth":1.4},"encoding":{"detail":{"field":"id"}}},
{"data":{"name":"candles"},"mark":{"type":"rule","strokeWidth":1},"encoding":{"y":{"field":"h","type":"quantitative","axis":null,"scale":{"domain":[618.05e-8,1078.03e-8],"zero":false,"nice":false}},"y2":{"field":"l"},"color":{"condition":{"test":"datum.c>=datum.o","value":"#2962FF"},"value":"#131722"}}},
{"data":{"name":"candles"},"mark":{"type":"bar","size":4.8},"encoding":{"y":{"field":"o","type":"quantitative","axis":null,"scale":{"domain":[618.05e-8,1078.03e-8],"zero":false,"nice":false}},"y2":{"field":"c"},"color":{"condition":{"test":"datum.c>=datum.o","value":"#2962FF"},"value":"#131722"}}},
{"data":{"values":[{"t":"2025-11-26T08:20Z","p":749.5e-8}]},"mark":{"type":"point","shape":"circle","filled":true,"fill":"#ffffff","stroke":"#9C27B0","strokeWidth":2,"size":420,"opacity":1}},
{"data":{"values":[{"t":"2025-11-26T08:20Z","p":749.5e-8}]},"mark":{"type":"point","shape":"M0.25,-1 L-0.6,0.2 L-0.05,0.2 L-0.25,1 L0.6,-0.2 L0.05,-0.2 Z","filled":true,"color":"#9C27B0","size":200,"opacity":1}},
{"data":{"values":[{"t":"2025-11-26T14:40Z","p":753.9e-8}]},"mark":{"type":"point","shape":"circle","filled":true,"color":"#F23645","size":30,"opacity":1}},
{"data":{"values":[{"t":"2025-10-24T18:30Z","p":1068e-8,"label":"novintrader1376 created with TradingView.com, Nov 26, 2025 03:20 UTC-5"}]},"mark":{"type":"text","align":"left","baseline":"middle","fontSize":15.25,"color":"#131722","font":"Roboto"},"encoding":{"text":{"field":"label"}}},
{"data":{"values":[{"t":"2025-10-25T02:00Z","p":1050e-8,"label":"SHIB / TetherUS · 4h · Binance"},{"t":"2025-10-25T02:00Z","p":1038.8e-8,"label":"Ichimoku (9, 26, 52, 26)"}]},"mark":{"type":"text","align":"left","baseline":"middle","fontSize":15.4,"color":"#2A2E39","font":"Roboto"},"encoding":{"text":{"field":"label"}}},
{"data":{"values":[{"t":"2025-10-31T15:44Z","p":1050e-8,"label":"O0.00000866"},{"t":"2025-11-03T14:00Z","p":1050e-8,"label":"H0.00000867"},{"t":"2025-11-06T13:12Z","p":1050e-8,"label":"L0.00000863"},{"t":"2025-11-09T10:00Z","p":1050e-8,"label":"C0.00000863"}]},"mark":{"type":"text","align":"left","baseline":"middle","fontSize":14.6,"color":"#2A2E39","font":"Roboto"},"encoding":{"text":{"field":"label"}}},
{"data":{"values":[{"t":"2025-11-12T09:12Z","p":1050e-8,"label":"−0.00000003 (−0.35%)"}]},"mark":{"type":"text","align":"left","baseline":"middle","fontSize":14.3,"color":"#2A2E39","font":"Roboto"},"encoding":{"text":{"field":"label"}}},
{"data":{"values":[{"t":"2025-10-30T07:10Z","p":1038.8e-8,"label":"0.00000836"}]},"mark":{"type":"text","align":"left","baseline":"middle","fontSize":14.6,"color":"#A5D6A7","font":"Roboto"},"encoding":{"text":{"field":"label"}}},
{"data":{"values":[{"t":"2025-11-01T22:48Z","p":1038.8e-8,"label":"0.00000829"}]},"mark":{"type":"text","align":"left","baseline":"middle","fontSize":14.6,"color":"#EF9A9A","font":"Roboto"},"encoding":{"text":{"field":"label"}}},
{"data":{"values":[{"t":"2025-12-04T17:30Z","t2":"2025-12-07T11:00Z","p":869.2e-8,"p2":856.1e-8},{"t":"2025-12-07T11:48Z","t2":"2025-12-10T19:24Z","p":869.2e-8,"p2":845.4e-8}]},"mark":{"type":"rect","cornerRadius":2,"fill":"#131722"},"encoding":{"x2":{"field":"t2"},"y2":{"field":"p2"}}},
{"data":{"values":[{"t":"2025-12-07T11:48Z","t2":"2025-12-10T19:24Z","p":842.2e-8,"p2":829.2e-8}]},"mark":{"type":"rect","cornerRadius":2,"fill":"#A5D6A7"},"encoding":{"x2":{"field":"t2"},"y2":{"field":"p2"}}},
{"data":{"values":[{"t":"2025-12-07T11:48Z","t2":"2025-12-10T19:24Z","p":828.7e-8,"p2":815.7e-8}]},"mark":{"type":"rect","cornerRadius":2,"fill":"#EF9A9A"},"encoding":{"x2":{"field":"t2"},"y2":{"field":"p2"}}},
{"data":{"values":[{"t":"2025-12-06T02:00Z","p":863e-8,"label":"SHIBUSDT"}]},"mark":{"type":"text","align":"center","baseline":"middle","fontSize":16,"color":"#ffffff","font":"Roboto","fontWeight":500},"encoding":{"text":{"field":"label"}}},
{"data":{"values":[{"t":"2025-12-07T20:18Z","p":863e-8,"label":"0.00000863"}]},"mark":{"type":"text","align":"left","baseline":"middle","fontSize":17,"color":"#ffffff","font":"Roboto"},"encoding":{"text":{"field":"label"}}},
{"data":{"values":[{"t":"2025-12-07T20:18Z","p":851.7e-8,"label":"03:39:18"}]},"mark":{"type":"text","align":"left","baseline":"middle","fontSize":17.5,"color":"#B8B8B8","font":"Roboto"},"encoding":{"text":{"field":"label"}}},
{"data":{"values":[{"t":"2025-12-07T20:18Z","p":835.6e-8,"label":"0.00000836"},{"t":"2025-12-07T20:18Z","p":822e-8,"label":"0.00000829"}]},"mark":{"type":"text","align":"left","baseline":"middle","fontSize":17,"color":"#131722","font":"Roboto"},"encoding":{"text":{"field":"label"}}},
{"data":{"values":[{"t":"2025-10-25T09:43Z","p":638.3e-8}]},"mark":{"type":"point","shape":"M-1,-0.5 L-0.23,-0.5 L-0.23,0.5 L-0.64,0.5 L-0.64,-0.09 L-1,-0.09 Z M-0.1,-0.32 A0.17,0.17 0 1 0 0.24,-0.32 A0.17,0.17 0 1 0 -0.1,-0.32 Z M0.4,-0.5 L1,-0.5 L0.58,0.5 L0.12,0.5 Z","filled":true,"color":"#131722","size":1369,"opacity":1}},
{"data":{"values":[{"t":"2025-10-26T06:48Z","p":638.3e-8,"label":"TradingView"}]},"mark":{"type":"text","align":"left","baseline":"middle","fontSize":25,"fontWeight":600,"color":"#131722","font":"Inter"},"encoding":{"text":{"field":"label"}}}
]}
],
"resolve":{"scale":{"y":"independent"},"axis":{"x":"independent","y":"independent"}}}
